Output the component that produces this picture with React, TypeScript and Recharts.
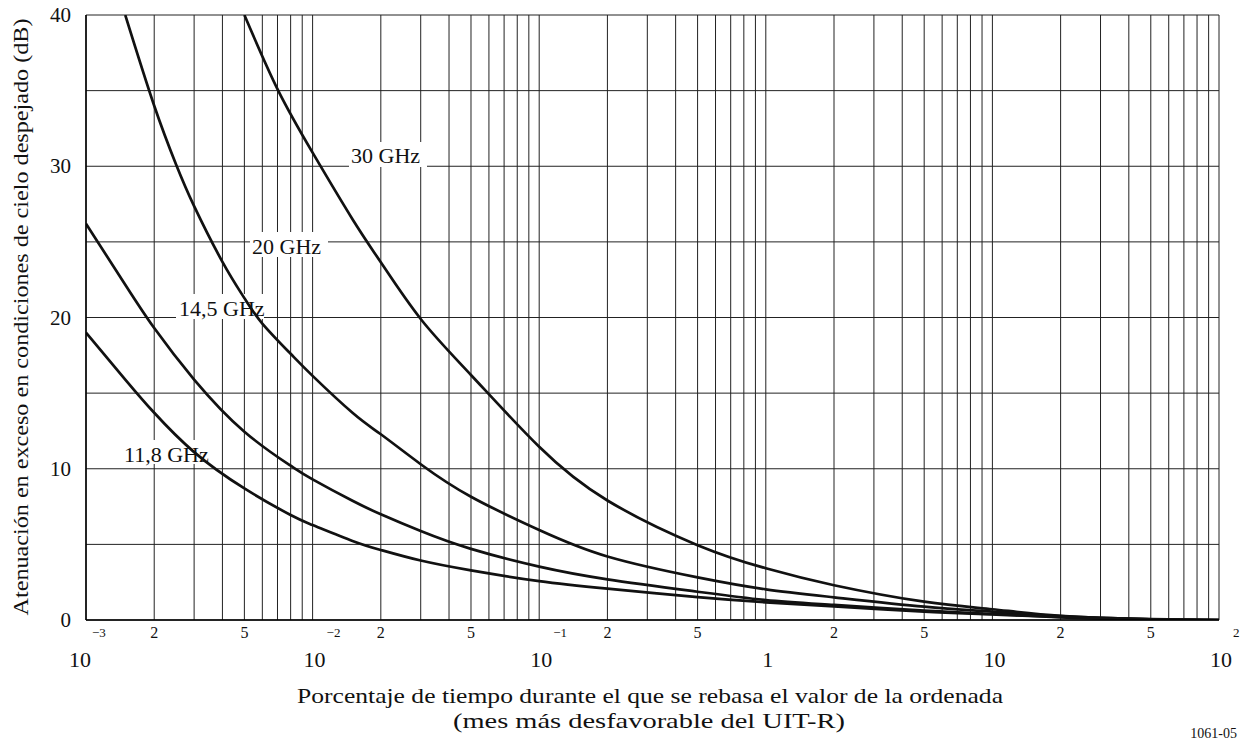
import React from "react";
import {
  LineChart,
  Line,
  XAxis,
  YAxis,
  CartesianGrid,
  Customized,
} from "recharts";

const FONT = '"Liberation Serif", "Times New Roman", serif';

// grid ticks: every 1..9 inside each decade
const decades = [0.001, 0.01, 0.1, 1, 10];
const mantissas = [1, 2, 3, 4, 5, 6, 7, 8, 9];
const xTicks = [...decades.flatMap((d) => mantissas.map((m) => +(d * m).toPrecision(3))), 100];
const yTicks = [0, 5, 10, 15, 20, 25, 30, 35, 40];

const decadeLabels: Record<string, string[]> = {
  "0.001": ["10", "−3"],
  "0.01": ["10", "−2"],
  "0.1": ["10", "−1"],
  "1": ["1", ""],
  "10": ["10", ""],
  "100": ["10", "2"],
};

// 30 GHz
const pct30 = [0.005, 0.007, 0.01, 0.015, 0.02, 0.03, 0.05, 0.1, 0.2, 0.5, 1, 2, 5, 10, 20, 50, 100];
const att30 = [40, 35.1, 30.9, 26.5, 23.65, 19.9, 16.2, 11.45, 7.9, 4.95, 3.42, 2.3, 1.21, 0.71, 0.28, 0.06, 0];

// 20 GHz
const pct20 = [0.00149, 0.002, 0.0025, 0.003, 0.004, 0.005, 0.006, 0.008, 0.01, 0.015, 0.02, 0.03, 0.05, 0.1, 0.2, 0.5, 1, 2, 5, 10, 20, 50, 100];
const att20 = [40, 34.0, 30.1, 27.36, 23.68, 21.28, 19.6, 17.6, 16.14, 13.7, 12.28, 10.3, 8.15, 5.95, 4.2, 2.82, 2.03, 1.5, 0.88, 0.55, 0.25, 0.05, 0];

// 14,5 GHz
const pct145 = [0.001, 0.0015, 0.002, 0.003, 0.005, 0.008, 0.01, 0.015, 0.02, 0.03, 0.05, 0.1, 0.2, 0.5, 1, 2, 5, 10, 20, 50, 100];
const att145 = [26.2, 22.1, 19.3, 15.9, 12.45, 10.2, 9.3, 7.88, 6.99, 5.88, 4.7, 3.53, 2.69, 1.87, 1.32, 1.0, 0.62, 0.4, 0.2, 0.04, 0];

// 11,8 GHz
const pct118 = [0.001, 0.0015, 0.002, 0.003, 0.005, 0.008, 0.01, 0.015, 0.02, 0.03, 0.05, 0.1, 0.2, 0.5, 1, 2, 5, 10, 20, 50, 100];
const att118 = [19.0, 15.85, 13.7, 11.1, 8.7, 6.94, 6.28, 5.23, 4.63, 3.93, 3.28, 2.57, 2.07, 1.51, 1.17, 0.9, 0.55, 0.37, 0.18, 0.04, 0];

const toPoints = (xs: number[], ys: number[]) => xs.map((x, i) => ({ x, y: ys[i] }));

const series = [
  { name: "30 GHz", data: toPoints(pct30, att30) },
  { name: "20 GHz", data: toPoints(pct20, att20) },
  { name: "14,5 GHz", data: toPoints(pct145, att145) },
  { name: "11,8 GHz", data: toPoints(pct118, att118) },
];

// curve labels sit on white boxes that cut the grid and the curves
const curveLabels = [
  { text: "30 GHz", box: [349, 142, 78, 25], tx: 351, ty: 163 },
  { text: "20 GHz", box: [250, 232, 78, 25], tx: 252, ty: 254 },
  { text: "14,5 GHz", box: [176, 294, 88, 25], tx: 179, ty: 316 },
  { text: "11,8 GHz", box: [122, 440, 95, 24], tx: 124, ty: 462 },
];

const AXIS_Y = 620;

function XTick(props: any) {
  const { x, payload } = props;
  const v = payload.value as number;
  const key = String(v);
  if (decadeLabels[key]) {
    const [base, exp] = decadeLabels[key];
    const cx = v === 0.001 ? x - 6 : x + 2;
    return (
      <g fontFamily={FONT} fill="#111">
        <text x={cx} y={AXIS_Y + 47} fontSize={22} textAnchor="middle">
          {base}
        </text>
        {exp && (
          <text x={cx + 12} y={AXIS_Y + 17} fontSize={13} textAnchor="start">
            {exp}
          </text>
        )}
      </g>
    );
  }
  const m = Math.round(v / Math.pow(10, Math.floor(Math.log10(v) + 1e-9)));
  if (m === 2 || m === 5) {
    return (
      <text x={x} y={AXIS_Y + 18} fontSize={16} textAnchor="middle" fontFamily={FONT} fill="#111">
        {m}
      </text>
    );
  }
  return <g />;
}

function YTick(props: any) {
  const { y, payload } = props;
  if (payload.value % 10 !== 0) return <g />;
  return (
    <text x={71} y={y + 7} fontSize={21} textAnchor="end" fontFamily={FONT} fill="#111">
      {payload.value}
    </text>
  );
}

function Annotations() {
  return (
    <g fontFamily={FONT} fill="#111">
      {curveLabels.map((l) => (
        <g key={l.text}>
          <rect x={l.box[0]} y={l.box[1]} width={l.box[2]} height={l.box[3]} fill="#fff" />
          <text x={l.tx} y={l.ty} fontSize={22}>
            {l.text}
          </text>
        </g>
      ))}
      <text
        transform="translate(28, 317) rotate(-90)"
        textAnchor="middle"
        fontSize={21}
        textLength={597}
        lengthAdjust="spacingAndGlyphs"
      >
        Atenuación en exceso en condiciones de cielo despejado (dB)
      </text>
      <text x={650} y={703} textAnchor="middle" fontSize={21} textLength={706} lengthAdjust="spacingAndGlyphs">
        Porcentaje de tiempo durante el que se rebasa el valor de la ordenada
      </text>
      <text x={649} y={728} textAnchor="middle" fontSize={21} textLength={392} lengthAdjust="spacingAndGlyphs">
        (mes más desfavorable del UIT-R)
      </text>
      <text x={1237} y={738} textAnchor="end" fontSize={14}>
        1061-05
      </text>
    </g>
  );
}

export default function App() {
  return (
    <div style={{ position: "absolute", left: 0, top: 0, background: "#fff" }}>
      <LineChart
        width={1248}
        height={740}
        margin={{ top: 15, right: 29, bottom: 0, left: 0 }}
      >
        <CartesianGrid stroke="#222" strokeWidth={1} />
        <XAxis
          dataKey="x"
          type="number"
          scale="log"
          domain={[0.001, 100]}
          ticks={xTicks}
          interval={0}
          allowDataOverflow
          height={120}
          tickLine={false}
          axisLine={{ stroke: "#000", strokeWidth: 1.5 }}
          tick={<XTick />}
        />
        <YAxis
          type="number"
          domain={[0, 40]}
          ticks={yTicks}
          interval={0}
          allowDataOverflow
          width={86}
          tickLine={false}
          axisLine={{ stroke: "#000", strokeWidth: 1.5 }}
          tick={<YTick />}
        />
        {series.map((s) => (
          <Line
            key={s.name}
            data={s.data}
            dataKey="y"
            type="natural"
            stroke="#111"
            strokeWidth={2.7}
            dot={false}
            activeDot={false}
            isAnimationActive={false}
          />
        ))}
        <Customized component={<Annotations />} />
      </LineChart>
    </div>
  );
}
